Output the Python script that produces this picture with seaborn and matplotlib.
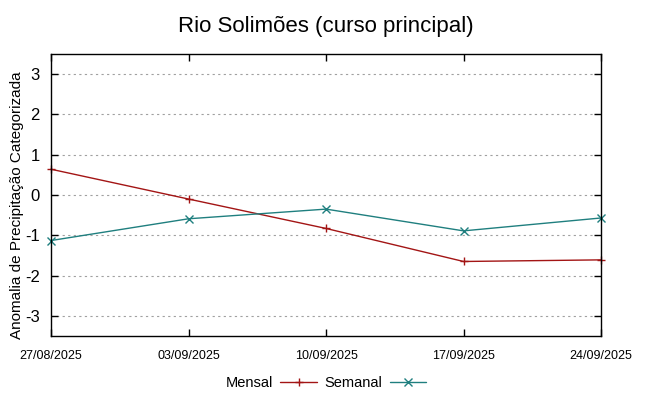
import pandas as pd
import numpy as np
import matplotlib.pyplot as plt
import matplotlib.dates as mdates
import seaborn as sns

datas = ['2025-08-27', '2025-09-03', '2025-09-10', '2025-09-17', '2025-09-24']
mensal = [0.64, -0.10, -0.83, -1.65, -1.61]
semanal = [-1.13, -0.59, -0.35, -0.89, -0.57]
yticks = [-3, -2, -1, 0, 1, 2, 3]

df = pd.DataFrame({'data': pd.to_datetime(datas), 'Mensal': mensal, 'Semanal': semanal})
df = df.melt(id_vars=['data'], var_name='serie', value_name='valor')

sns.set_style('white')
plt.rcParams['font.family'] = ['Liberation Sans', 'DejaVu Sans']
plt.rcParams['axes.unicode_minus'] = False
plt.rcParams['text.color'] = 'black'
plt.rcParams['axes.labelcolor'] = 'black'
plt.rcParams['xtick.color'] = 'black'
plt.rcParams['ytick.color'] = 'black'

fig = plt.figure(figsize=(6.49, 3.96), dpi=100)
ax = fig.add_axes([0.0786, 0.1515, 0.8475, 0.7121])

cores = {'Mensal': '#a31515', 'Semanal': '#1f7f7f'}
marcas = {'Mensal': '+', 'Semanal': 'x'}
sns.lineplot(data=df, x='data', y='valor', hue='serie', style='serie',
             palette=cores, markers=marcas, dashes=False, linewidth=1,
             markersize=6, markeredgewidth=1, ax=ax, clip_on=False)
for ln in ax.lines:
    ln.set_markeredgecolor(ln.get_color())

ax.set_xlim(pd.Timestamp(datas[0]), pd.Timestamp(datas[-1]))
ax.set_ylim(-3.5, 3.5)
ax.set_yticks(yticks)
ax.set_xticks(pd.to_datetime(datas))
ax.xaxis.set_major_formatter(mdates.DateFormatter('%d/%m/%Y'))
ax.yaxis.grid(True, linestyle=(0, (2, 3)), color='#a0a0a0', linewidth=0.8)
ax.xaxis.grid(False)
for s in ax.spines.values():
    s.set_color('black')
    s.set_linewidth(1)
ax.tick_params(axis='both', direction='in', length=5, width=1, color='black',
               top=True, right=True, bottom=True, left=True)
ax.tick_params(axis='y', labelsize=12, pad=8)
ax.tick_params(axis='x', labelsize=9, pad=10)

ax.set_xlabel('')
ax.set_ylabel('Anomalia de Precipitação Categorizada', fontsize=11)
ax.yaxis.set_label_coords(-0.049, 0.465)
ax.set_title('Rio Solimões (curso principal)', fontsize=16, pad=16, color='black')

h, l = ax.get_legend_handles_labels()
leg = ax.legend(h, l, loc='center', bbox_to_anchor=(0.5, -0.167), ncol=2,
                frameon=False, markerfirst=False, fontsize=10.5, handlelength=2.5,
                columnspacing=0.55, handletextpad=0.5)
for ln in leg.get_lines():
    ln.set_markeredgecolor(ln.get_color())

fig.savefig('out.png', dpi=100)
